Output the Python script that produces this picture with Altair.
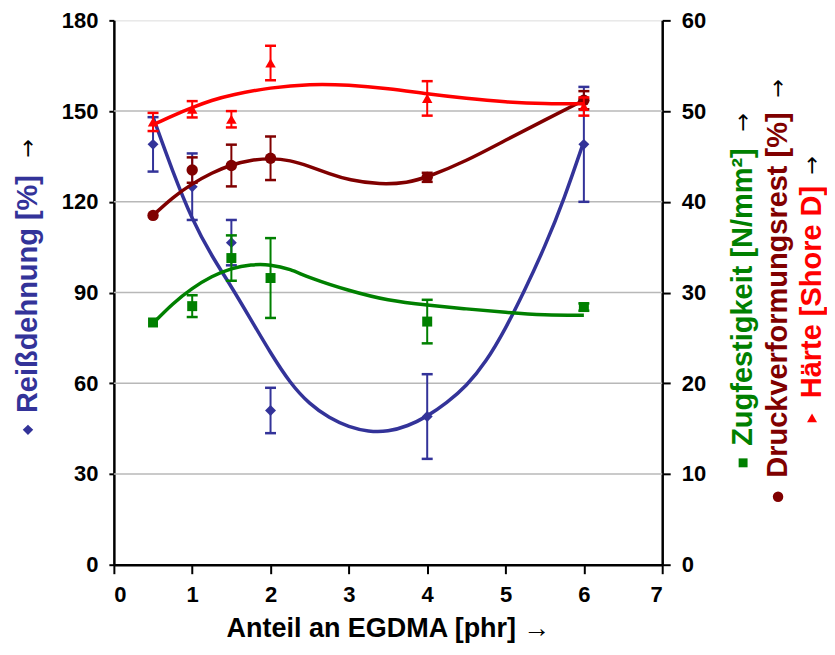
import altair as alt
import pandas as pd

# ---- data ----
x_vals = [0.5, 1.0, 1.5, 2.0, 4.0, 6.0]

reiss = [139, 125, 106.5, 51, 49, 139]          # Reißdehnung [%] (left axis)
reiss_err = [9, 11, 7.5, 7.5, 14, 19]

zug = [26.7, 28.5, 33.8, 31.6, 26.8, 28.4]      # Zugfestigkeit [N/mm²] (right axis)
zug_err = [0, 1.2, 2.5, 4.4, 2.4, 0.4]

druck = [38.5, 43.5, 44.0, 44.8, 42.7, 51.2]    # Druckverformungsrest [%] (right axis)
druck_err = [0, 1.4, 2.3, 2.4, 0.5, 1.0]

haerte = [48.8, 50.2, 49.1, 55.3, 51.4, 50.5]   # Härte [Shore D] (right axis)
haerte_err = [1.0, 0.9, 0.9, 1.9, 1.9, 1.0]

# ---- trend curves ----
blue_curve_x = [0.5, 0.75, 1.0, 1.25, 1.5, 1.75, 2.0, 2.25, 2.5, 2.75, 3.0, 3.25,
                3.5, 3.75, 4.0, 4.25, 4.5, 4.75, 5.0, 5.25, 5.5, 5.75, 6.0]
blue_curve_y = [148, 130, 114, 102, 92, 81, 70, 60, 53, 48.5, 45.5, 44,
                44, 45.8, 49, 53.5, 59, 67, 78, 91, 105, 121, 140]

green_curve_x = [0.5, 0.75, 1.0, 1.25, 1.5, 1.75, 2.0, 2.25, 2.5, 3.0, 3.5, 4.0,
                 4.5, 5.0, 5.5, 6.0]
green_curve_y = [26.6, 28.8, 30.5, 31.8, 32.7, 33.1, 33.1, 32.6, 31.6, 30.2, 29.1, 28.6,
                 28.2, 27.8, 27.5, 27.5]

druck_curve_x = [0.5, 0.75, 1.0, 1.25, 1.5, 1.75, 2.0, 2.25, 2.5, 2.75, 3.0, 3.4,
                 3.75, 4.0, 4.5, 5.0, 5.5, 6.0]
druck_curve_y = [38.5, 40.5, 42.0, 43.2, 44.1, 44.6, 44.8, 44.6, 43.9, 43.1, 42.4, 41.9,
                 42.1, 42.7, 44.5, 46.8, 49.0, 51.2]

red_curve_x = [0.5, 0.75, 1.0, 1.25, 1.5, 2.0, 2.5, 3.0, 3.5, 4.0, 4.5, 5.0, 5.5, 6.0]
red_curve_y = [48.5, 49.5, 50.4, 51.2, 51.8, 52.6, 53.0, 52.9, 52.5, 51.9, 51.4, 51.0,
               50.8, 50.8]

x_ticks = [0, 1, 2, 3, 4, 5, 6, 7]
left_ticks = [0, 30, 60, 90, 120, 150, 180]
right_ticks = [0, 10, 20, 30, 40, 50, 60]
grid_vals = [30, 60, 90, 120, 150]

BLUE = "#333399"
GREEN = "#008000"
DARKRED = "#800000"
RED = "#FF0000"
FONT = "Liberation Sans"


def frame(vals, errs):
    return pd.DataFrame({
        "x": x_vals,
        "y": vals,
        "err": errs,
        "lo": [v - e for v, e in zip(vals, errs)],
        "hi": [v + e for v, e in zip(vals, errs)],
    })


x_enc = alt.X("x:Q", scale=alt.Scale(domain=[0, 7], nice=False, zero=False),
              axis=alt.Axis(values=x_ticks, grid=False, title="Anteil an EGDMA [phr] →",
                            titleFont=FONT, titleFontSize=27, titleFontWeight="bold",
                            titleColor="black", titlePadding=10,
                            labelFont=FONT, labelFontSize=22, labelFontWeight="bold",
                            labelColor="black", domainColor="black", domainWidth=2.5,
                            tickColor="black", tickWidth=2, tickSize=9, labelPadding=11))

left_scale = alt.Scale(domain=[0, 180], nice=False, zero=True)
right_scale = alt.Scale(domain=[0, 60], nice=False, zero=True)

left_axis = alt.Axis(orient="left", values=left_ticks, grid=False, title=None,
                     labelFont=FONT, labelFontSize=22, labelFontWeight="bold",
                     labelColor="black", domainColor="black", domainWidth=2.5,
                     tickColor="black", tickWidth=2, tickSize=5, labelPadding=11)
right_axis = alt.Axis(orient="right", values=right_ticks, grid=False, title=None,
                      labelFont=FONT, labelFontSize=22, labelFontWeight="bold",
                      labelColor="black", domainColor="black", domainWidth=2.5,
                      tickColor="black", tickWidth=2, tickSize=8, labelPadding=11)


def series_layers(df, cx, cy, color, shape, size, scale, axis):
    curve = alt.Chart(pd.DataFrame({"x": cx, "y": cy})).mark_line(
        color=color, strokeWidth=3.5, interpolate="basis").encode(
        x=x_enc, y=alt.Y("y:Q", scale=scale, axis=axis))
    base = alt.Chart(df)
    eb = base.transform_filter("datum.err > 0")
    rule = eb.mark_rule(color=color, strokeWidth=2).encode(
        x=x_enc, y=alt.Y("lo:Q", scale=scale, axis=axis), y2="hi:Q")
    cap_lo = eb.mark_tick(color=color, orient="horizontal", size=11, thickness=2.5,
                          opacity=1).encode(x=x_enc, y=alt.Y("lo:Q", scale=scale, axis=axis))
    cap_hi = eb.mark_tick(color=color, orient="horizontal", size=11, thickness=2.5,
                          opacity=1).encode(x=x_enc, y=alt.Y("hi:Q", scale=scale, axis=axis))
    pts = base.mark_point(shape=shape, filled=True, size=size, color=color,
                          opacity=1).encode(x=x_enc, y=alt.Y("y:Q", scale=scale, axis=axis))
    return [curve, rule, cap_lo, cap_hi, pts]


grid = alt.Chart(pd.DataFrame({"g": grid_vals})).mark_rule(
    color="#b8b8b8", strokeWidth=1.5).encode(
    y=alt.Y("g:Q", scale=left_scale, axis=left_axis))

left_group = alt.layer(grid, *series_layers(frame(reiss, reiss_err), blue_curve_x, blue_curve_y,
                                            BLUE, "diamond", 120, left_scale, left_axis))

right_group = alt.layer(
    *series_layers(frame(zug, zug_err), green_curve_x, green_curve_y,
                   GREEN, "square", 100, right_scale, right_axis),
    *series_layers(frame(druck, druck_err), druck_curve_x, druck_curve_y,
                   DARKRED, "circle", 130, right_scale, right_axis),
    *series_layers(frame(haerte, haerte_err), red_curve_x, red_curve_y,
                   RED, "triangle-up", 110, right_scale, right_axis),
)

dummy = alt.Data(values=[{"a": 1}])


def vtext(txt, color, px, py, size=29, weight="bold", font=FONT):
    return alt.Chart(dummy).mark_text(
        text=txt, angle=270, align="center", baseline="middle", font=font,
        fontSize=size, fontWeight=weight, color=color).encode(
        x=alt.value(px), y=alt.value(py))


def arrow(px, py):
    return vtext("→", "black", px, py, 22, "normal", "DejaVu Sans")


def sym(shape, color, px, py, size):
    return alt.Chart(dummy).mark_point(
        shape=shape, filled=True, color=color, size=size, opacity=1).encode(
        x=alt.value(px), y=alt.value(py))


titles = [
    # left axis title
    vtext("Reißdehnung [%]", BLUE, -86, 274),
    arrow(-86, 128),
    sym("diamond", BLUE, -86, 410, 110),
    # right axis titles
    vtext("Zugfestigkeit [N/mm²]", GREEN, 630, 277),
    arrow(630, 102),
    sym("square", GREEN, 630, 443, 80),
    vtext("Druckverformungsrest [%]", DARKRED, 665, 275),
    arrow(665, 68),
    sym("circle", DARKRED, 665, 477, 110),
    vtext("Härte [Shore D]", RED, 699, 272),
    arrow(699, 145),
    sym("triangle-up", RED, 699, 398, 100),
]

chart = alt.layer(left_group, right_group, *titles).resolve_scale(
    y="independent"
).properties(
    width=549, height=545,
    autosize=alt.AutoSizeParams(type="none"),
    padding={"left": 106, "top": 12, "right": 165, "bottom": 80},
).configure_view(stroke=None).configure(background="white")

chart.save("out.html", embed_options={"renderer": "svg", "actions": False})
